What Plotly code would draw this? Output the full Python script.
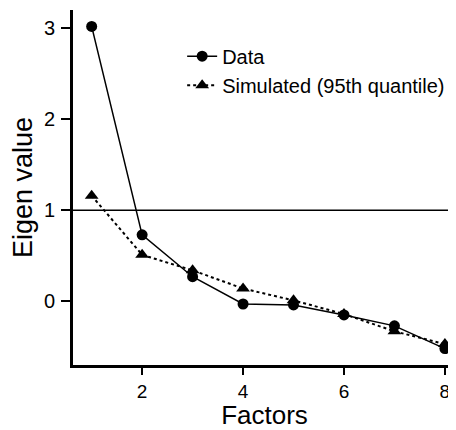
import plotly.graph_objects as go

factors = [1, 2, 3, 4, 5, 6, 7, 8]
data_vals = [3.02, 0.73, 0.27, -0.03, -0.04, -0.15, -0.27, -0.52]
sim_vals = [1.16, 0.51, 0.34, 0.14, 0.01, -0.14, -0.33, -0.47]
ref_line = 1
x_ticks = [2, 4, 6, 8]
y_ticks = [0, 1, 2, 3]

fig = go.Figure()
fig.add_trace(go.Scatter(
    x=factors, y=data_vals, name="Data", mode="lines+markers",
    line=dict(color="black", width=1.5),
    marker=dict(symbol="circle", size=11, color="black"),
))
fig.add_trace(go.Scatter(
    x=factors, y=sim_vals, name="Simulated (95th quantile)", mode="lines+markers",
    line=dict(color="black", width=2, dash="dot"),
    marker=dict(symbol="triangle-up", size=12, color="black"),
))
fig.add_hline(y=ref_line, line=dict(color="black", width=1.5))

font = "Liberation Sans, Arial, sans-serif"
fig.update_layout(
    width=448, height=422,
    margin=dict(l=65, r=0, t=2, b=65),
    paper_bgcolor="white", plot_bgcolor="white",
    font=dict(family=font, color="black", size=20),
    showlegend=True,
    legend=dict(x=0.285, y=0.925, xanchor="left", yanchor="top",
                bgcolor="rgba(0,0,0,0)", font=dict(size=20), tracegroupgap=0,
                itemwidth=30),
    xaxis=dict(range=[0.63, 8.22], tickvals=x_ticks, showgrid=False, zeroline=False,
               showline=True, linecolor="black", linewidth=3,
               ticks="outside", ticklen=7, tickwidth=2, tickcolor="black",
               tickfont=dict(size=19),
               title=dict(text="Factors", font=dict(size=26), standoff=9)),
    yaxis=dict(range=[-0.70, 3.2], tickvals=y_ticks, showgrid=False, zeroline=False,
               showline=True, linecolor="black", linewidth=3,
               ticks="outside", ticklen=9, tickwidth=2, tickcolor="black",
               tickfont=dict(size=20), ticklabelstandoff=2,
               title=dict(text="Eigen value", font=dict(size=27), standoff=8)),
)
fig.write_html("out.html")
